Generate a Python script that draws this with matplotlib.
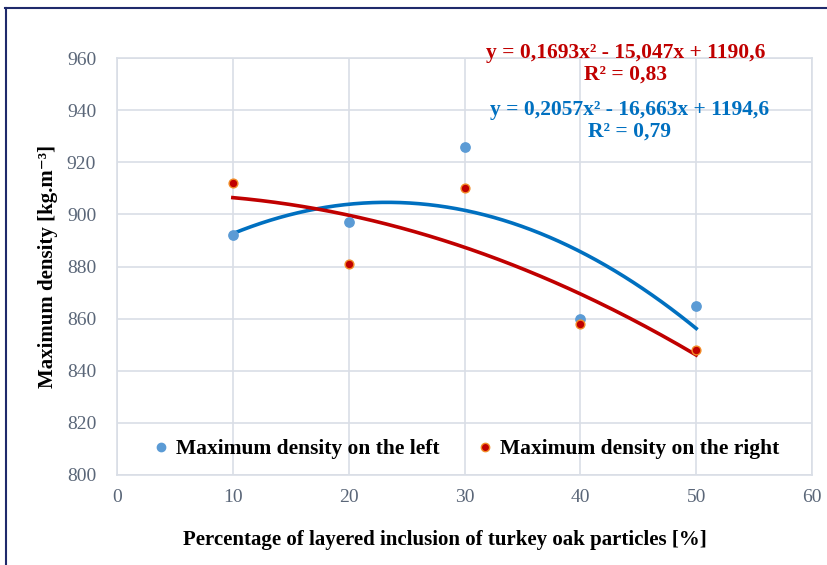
import numpy as np
import matplotlib.pyplot as plt
from matplotlib.lines import Line2D

# === DATA ===
inclusion = [10, 20, 30, 40, 50]
density_left = [892, 897, 926, 860, 865]
density_right = [912, 881, 910, 858, 848]
eq_right = ["y = 0,1693x² - 15,047x + 1190,6", "R² = 0,83"]
eq_left = ["y = 0,2057x² - 16,663x + 1194,6", "R² = 0,79"]
x_ticks = [0, 10, 20, 30, 40, 50, 60]
y_ticks = [800, 820, 840, 860, 880, 900, 920, 940, 960]

# === STYLE ===
BLUE_PT = "#5B9BD5"
BLUE_LN = "#0070C0"
RED_PT = "#C00000"
RED_EDGE = "#F28C28"
RED_LN = "#C00000"
GRID = "#D9DEE6"
TICK = "#5A6678"
plt.rcParams['font.family'] = ['Liberation Serif', 'DejaVu Serif']

fig = plt.figure(figsize=(8.27, 5.65), dpi=100)
ax = fig.add_axes([0.1415, 0.1593, 0.8404, 0.738])

# trendlines (2nd order polynomial, like Excel)
xs = np.linspace(10, 50, 200)
for y, col in [(density_left, BLUE_LN), (density_right, RED_LN)]:
    c = np.polyfit(inclusion, y, 2)
    ax.plot(xs, np.polyval(c, xs), color=col, lw=2.6, zorder=2)

ax.scatter(inclusion, density_left, s=45, color=BLUE_PT, zorder=3)
ax.scatter(inclusion, density_right, s=40, color=RED_PT, edgecolor=RED_EDGE,
           linewidth=1.0, zorder=4)

ax.set_xlim(0, 60)
ax.set_ylim(800, 960)
ax.set_xticks(x_ticks)
ax.set_yticks(y_ticks)
ax.grid(True, color=GRID, lw=1.2)
ax.set_axisbelow(True)
for s in ax.spines.values():
    s.set_color(GRID)
    s.set_linewidth(1.2)
ax.tick_params(axis='y', length=0, labelsize=14, colors=TICK, pad=15)
ax.tick_params(axis='x', length=0, labelsize=14, colors=TICK, pad=10)

ax.set_xlabel("Percentage of layered inclusion of turkey oak particles [%]",
              fontsize=15, fontweight='bold', labelpad=15)
ax.xaxis.set_label_coords(0.472, -0.133)
ax.set_ylabel("Maximum density [kg.m⁻³]", fontsize=15, fontweight='bold', labelpad=6)

# equations
ax.text(0.732, 0.987, eq_right[0] + "\n" + eq_right[1], transform=ax.transAxes,
        ha='center', va='center', color=RED_LN, fontsize=15.5, fontweight='bold',
        linespacing=1.1)
ax.text(0.737, 0.849, eq_left[0] + "\n" + eq_left[1], transform=ax.transAxes,
        ha='center', va='center', color=BLUE_LN, fontsize=15.5, fontweight='bold',
        linespacing=1.1)

handles = [
    Line2D([], [], ls='none', marker='o', ms=6, color=BLUE_PT),
    Line2D([], [], ls='none', marker='o', ms=6, color=RED_PT, markeredgecolor=RED_EDGE),
]
ax.legend(handles, ["Maximum density on the left", "Maximum density on the right"],
          loc='center', bbox_to_anchor=(0.5, 0.062), ncol=2, frameon=False,
          prop={'size': 15.5, 'weight': 'bold'}, handletextpad=0.2, columnspacing=1.6,
          handlelength=1.0)

# outer frame (left and top edges visible)
fig.add_artist(Line2D([0.007, 0.007], [0, 0.986], color="#1F2A6B", lw=1.5))
fig.add_artist(Line2D([0.006, 1.0], [0.986, 0.986], color="#1F2A6B", lw=1.5))

fig.savefig("out.png", dpi=100)
